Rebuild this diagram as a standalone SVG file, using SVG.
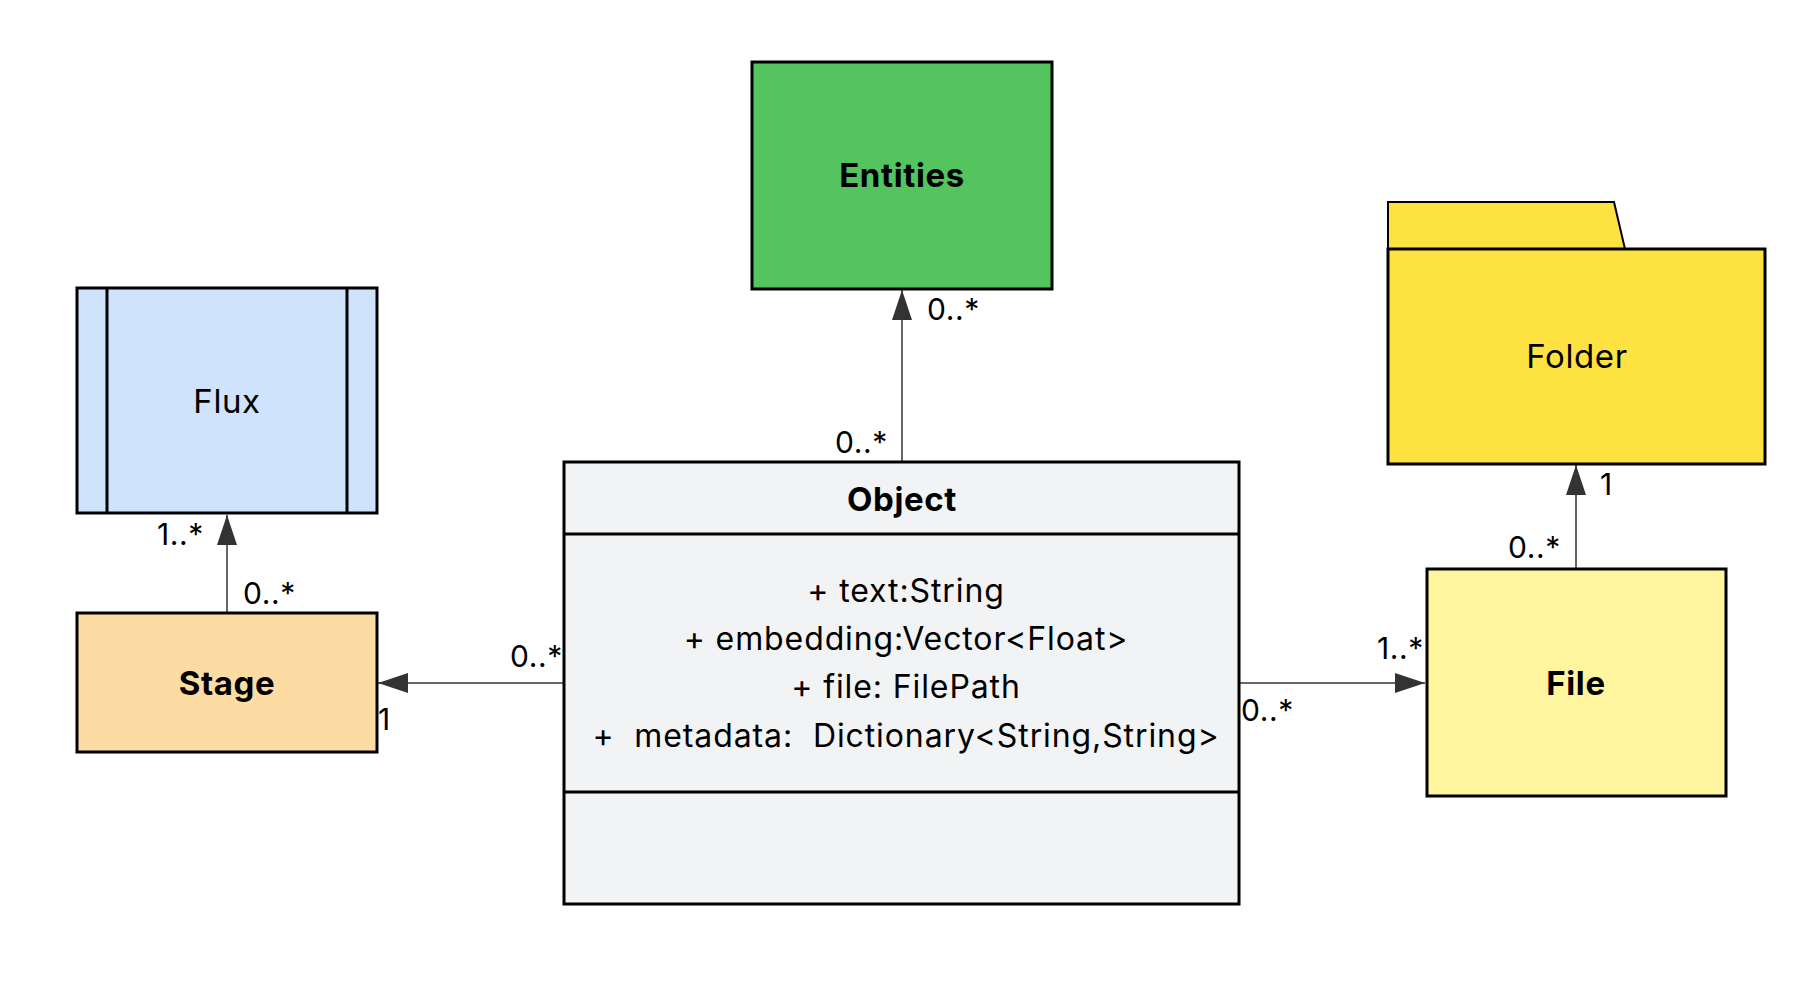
<svg xmlns="http://www.w3.org/2000/svg" width="1802" height="999" viewBox="0 0 1802 999">
<style>
.box{stroke:#000;stroke-width:3}
.name{font-family:Inter,"Noto Sans","Liberation Sans",sans-serif;font-size:33px;letter-spacing:0.6px;fill:#000;text-anchor:middle}
.bold{font-weight:700}
.attr{font-family:Inter,"Noto Sans","Liberation Sans",sans-serif;font-size:32px;letter-spacing:0.9px;fill:#000;text-anchor:middle;white-space:pre}
.lbl{font-family:Inter,"Noto Sans","Liberation Sans",sans-serif;font-size:30px;letter-spacing:0.6px;fill:#000}
.edge{stroke:#333;stroke-width:1.5;fill:none;marker-end:url(#arrow)}
</style>
<defs>
<marker id="arrow" markerUnits="userSpaceOnUse" markerWidth="30" markerHeight="20" refX="30" refY="10" orient="auto">
<path d="M0,0 L30,10 L0,20 z" fill="#333"/>
</marker>
</defs>
<rect width="1802" height="999" fill="#fff"/>
<g id="connectors">
<line class="edge" x1="227" y1="613" x2="227" y2="515"/>
<line class="edge" x1="564" y1="683" x2="378" y2="683"/>
<line class="edge" x1="902" y1="462" x2="902" y2="290"/>
<line class="edge" x1="1239" y1="683" x2="1425" y2="683"/>
<line class="edge" x1="1576" y1="568" x2="1576" y2="465"/>
<text class="lbl" x="157" y="545">1..*</text>
<text class="lbl" x="243" y="604">0..*</text>
<text class="lbl" x="510" y="667">0..*</text>
<text class="lbl" x="378" y="730">1</text>
<text class="lbl" x="835" y="453">0..*</text>
<text class="lbl" x="927" y="320">0..*</text>
<text class="lbl" x="1600" y="495">1</text>
<text class="lbl" x="1508" y="558">0..*</text>
<text class="lbl" x="1377" y="659">1..*</text>
<text class="lbl" x="1241" y="721">0..*</text>
</g>
<g id="flux">
<rect class="box" x="77" y="288" width="300" height="225" fill="#cfe3fd"/>
<line class="box" x1="107" y1="288" x2="107" y2="513"/>
<line class="box" x1="347" y1="288" x2="347" y2="513"/>
<text class="name" x="227" y="413">Flux</text>
</g>
<g id="entities">
<rect class="box" x="752" y="62" width="300" height="227" fill="#54c45e"/>
<text class="name bold" x="902" y="187">Entities</text>
</g>
<g id="stage">
<rect class="box" x="77" y="613" width="300" height="139" fill="#fddca4"/>
<text class="name bold" x="227" y="695">Stage</text>
</g>
<g id="object">
<rect class="box" x="564" y="462" width="675" height="442" fill="#f2f3f5"/>
<line class="box" x1="564" y1="534" x2="1239" y2="534"/>
<line class="box" x1="564" y1="792" x2="1239" y2="792"/>
<text class="name bold" x="902" y="511">Object</text>
<text class="attr" x="906" y="602">+ text:String</text>
<text class="attr" x="906" y="650">+ embedding:Vector&lt;Float&gt;</text>
<text class="attr" x="906" y="698">+ file: FilePath</text>
<text class="attr" x="906" y="747" xml:space="preserve">+  metadata:  Dictionary&lt;String,String&gt;</text>
</g>
<g id="folder">
<path d="M1388,249 L1388,202 L1614,202 L1625,249 Z" fill="#fee242" stroke="#000" stroke-width="2"/>
<rect class="box" x="1388" y="249" width="377" height="215" fill="#fee242"/>
<text class="name" x="1577" y="368">Folder</text>
</g>
<g id="file">
<rect class="box" x="1427" y="569" width="299" height="227" fill="#fff59e"/>
<text class="name bold" x="1576" y="695">File</text>
</g>
</svg>
